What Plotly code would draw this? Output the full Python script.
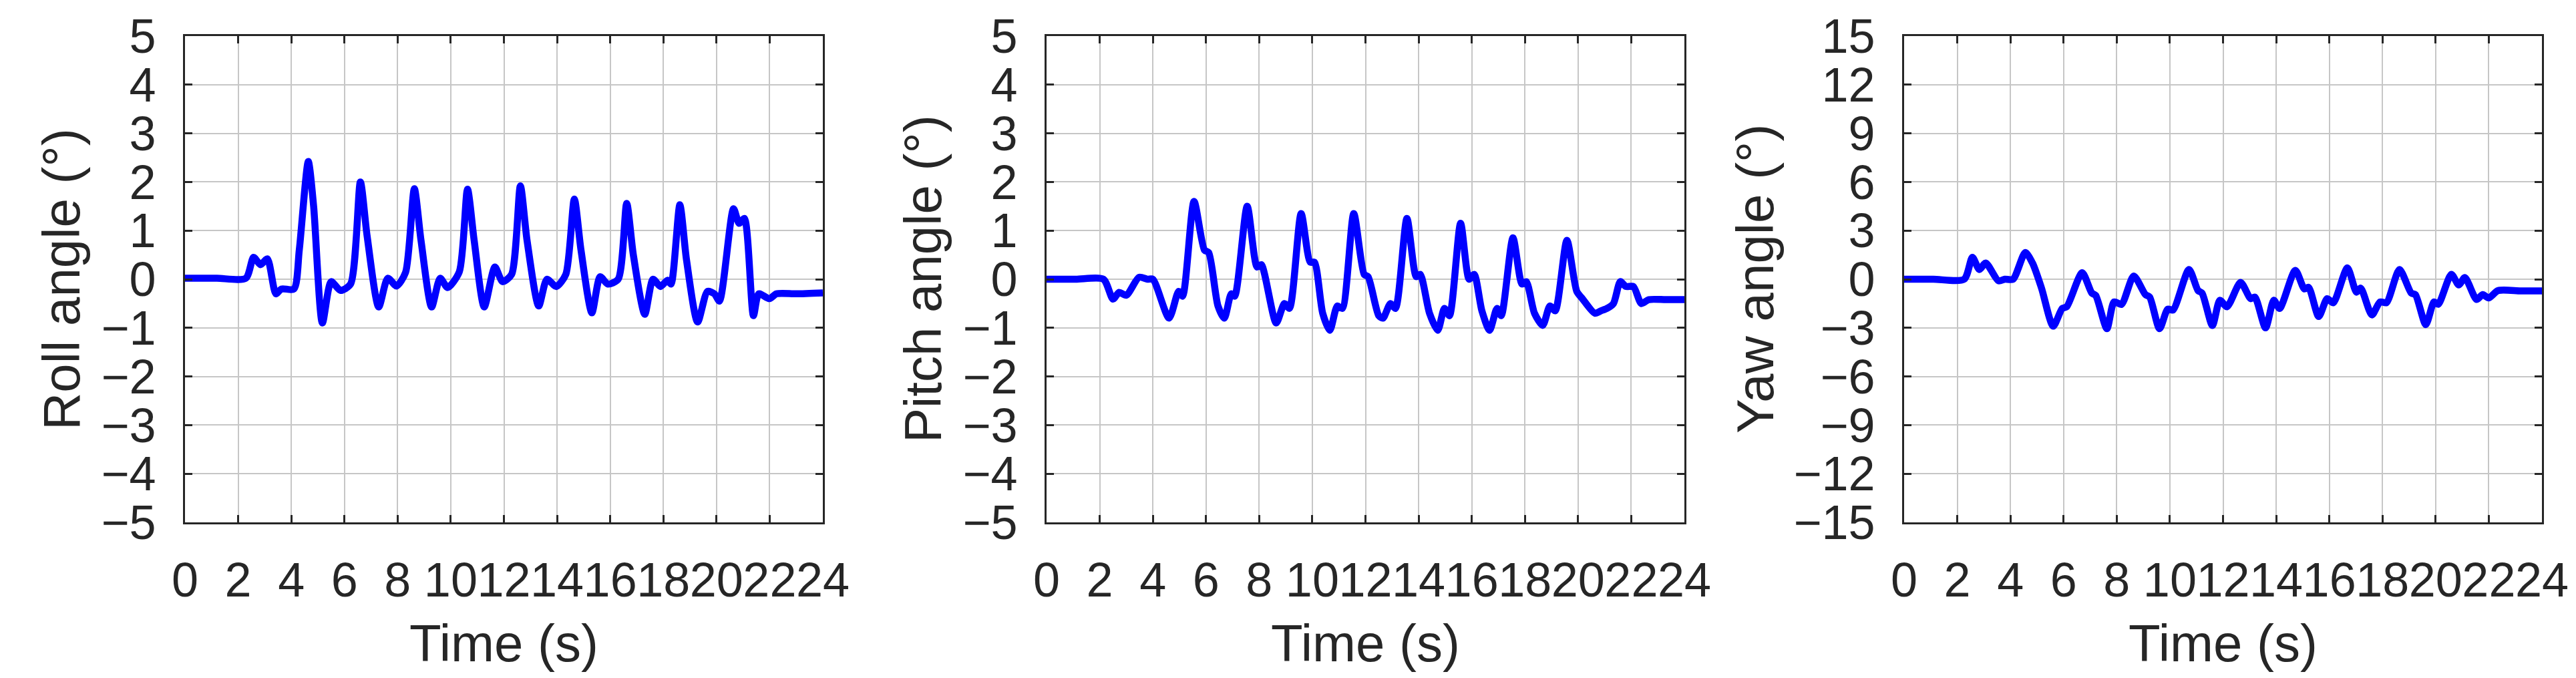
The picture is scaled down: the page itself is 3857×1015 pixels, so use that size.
import plotly.graph_objects as go

# roll angle (deg)
roll_t = [0, 1.2, 2.29, 2.58, 2.84, 3.1, 3.42, 3.63, 4.1, 4.3, 4.64, 4.84, 5.17, 5.5, 5.85, 6.23, 6.6,
          6.85, 7.29, 7.63, 7.96, 8.3, 8.63, 8.88, 9.28, 9.6, 9.88, 10.32, 10.63, 10.88, 11.26,
          11.66, 11.95, 12.29, 12.62, 12.87, 13.31, 13.62, 13.97, 14.33, 14.65, 14.9, 15.31,
          15.62, 15.91, 16.3, 16.62, 16.87, 17.3, 17.61, 17.89, 18.16, 18.29, 18.62, 18.87,
          19.29, 19.66, 19.92, 20.11, 20.64, 20.85, 21.05, 21.39, 21.59, 21.99, 22.26, 23.0, 24]
roll_deg = [0.02, 0.02, 0.02, 0.45, 0.3, 0.42, -0.3, -0.2, -0.2, 0.6, 2.42, 1.5, -0.9, -0.05, -0.23, -0.1, 2.0,
            0.9, -0.57, 0.02, -0.14, 0.14, 1.86, 0.8, -0.57, 0.02, -0.17, 0.15, 1.85, 0.8, -0.57,
            0.25, -0.05, 0.1, 1.92, 0.8, -0.55, 0.0, -0.15, 0.1, 1.65, 0.6, -0.69,
            0.05, -0.1, 0.0, 1.56, 0.5, -0.72, 0.0, -0.15, -0.02, -0.1, 1.53, 0.4,
            -0.88, -0.25, -0.3, -0.45, 1.45, 1.15, 1.25, -0.75, -0.3, -0.4, -0.3, -0.3, -0.28]

# pitch angle (deg), middle panel
pitch_t = [0, 1.1, 2.14, 2.5, 2.73, 3.0, 3.48, 3.8, 4.0, 4.61, 4.97, 5.12, 5.55, 5.94, 6.1, 6.45, 6.69,
           6.95, 7.08, 7.55, 7.92, 8.08, 8.64, 8.95, 9.14, 9.58, 9.92, 10.08, 10.39, 10.66, 10.94,
           11.13, 11.56, 11.95, 12.1, 12.5, 12.66, 12.94, 13.13, 13.56, 13.91, 14.06, 14.41,
           14.72, 14.97, 15.16, 15.58, 15.9, 16.09, 16.38, 16.67, 16.95, 17.11, 17.55, 17.89,
           18.05, 18.36, 18.67, 18.94, 19.14, 19.58, 19.95, 20.16, 20.63, 20.86, 21.09, 21.33,
           21.59, 21.8, 22.08, 22.38, 22.66, 23.3, 24]
pitch_deg = [0, 0, 0, -0.41, -0.27, -0.33, 0.04, 0.0, 0.0, -0.8, -0.25, -0.35, 1.6, 0.6, 0.55, -0.55, -0.8,
             -0.3, -0.35, 1.5, 0.25, 0.3, -0.9, -0.5, -0.6, 1.35, 0.35, 0.35, -0.7, -1.05, -0.55,
             -0.6, 1.35, 0.1, 0.05, -0.75, -0.8, -0.5, -0.6, 1.25, 0.05, 0.1, -0.7,
             -1.05, -0.6, -0.75, 1.15, 0.0, 0.1, -0.65, -1.05, -0.6, -0.75, 0.85, -0.1,
             -0.05, -0.7, -0.95, -0.55, -0.65, 0.8, -0.25, -0.4, -0.7, -0.65, -0.6, -0.5,
             -0.05, -0.15, -0.15, -0.5, -0.42, -0.42, -0.42]

# yaw angle (deg), right panel
yaw_t = [0, 1.1, 2.26, 2.57, 2.83, 3.07, 3.55, 3.79, 4.1, 4.56, 4.83, 5.17, 5.61, 5.95, 6.12, 6.7, 7.06,
         7.21, 7.63, 7.9, 8.18, 8.64, 9.08, 9.24, 9.61, 9.92, 10.12, 10.72, 11.06, 11.21, 11.6,
         11.88, 12.15, 12.66, 13.04, 13.2, 13.6, 13.91, 14.13, 14.72, 15.06, 15.22, 15.6,
         15.92, 16.15, 16.68, 17.02, 17.18, 17.6, 17.91, 18.15, 18.64, 19.08, 19.24, 19.63,
         19.94, 20.1, 20.59, 20.87, 21.1, 21.54, 21.77, 22.0, 22.35, 23.2, 24]
yaw_deg = [0, 0, 0, 1.35, 0.6, 1.0, -0.1, 0.0, 0.0, 1.65, 1.0, -0.55, -2.9, -1.8, -1.7, 0.4, -0.85,
           -1.0, -3.05, -1.4, -1.55, 0.2, -0.95, -1.1, -3.05, -1.85, -1.9, 0.6, -0.7, -0.85, -2.85,
           -1.3, -1.7, -0.2, -1.2, -1.1, -3.0, -1.3, -1.8, 0.55, -0.6, -0.5, -2.3,
           -1.2, -1.45, 0.7, -0.8, -0.55, -2.2, -1.4, -1.45, 0.6, -0.85, -0.95, -2.8,
           -1.4, -1.55, 0.3, -0.35, 0.1, -1.25, -0.95, -1.15, -0.7, -0.72, -0.72]

x_ticks = list(range(0, 25, 2))
y_labels = ["Roll angle (°)", "Pitch angle (°)", "Yaw angle (°)"]
y_ranges = [(-5, 5), (-5, 5), (-15, 15)]
y_steps = [1, 1, 3]

W, H = 3857, 1015
left_px = [269, 1559, 2843]
plot_w = 955
top_px, bot_px = 46, 774
title_off = [185, 185, 223]  # y title centre distance from axis

axis_col = "#262626"
grid_col = "#c6c6c6"
font = "Liberation Sans, Arial, sans-serif"

fig = go.Figure()
series = [(roll_t, roll_deg), (pitch_t, pitch_deg), (yaw_t, yaw_deg)]

for i, (t, v) in enumerate(series):
    n = "" if i == 0 else str(i + 1)
    fig.add_trace(go.Scatter(
        x=t, y=v, mode="lines",
        line=dict(color="#0000ff", width=10.5, shape="spline", smoothing=0.7),
        xaxis="x" + n, yaxis="y" + n, showlegend=False,
    ))
    x0 = left_px[i] / W
    x1 = (left_px[i] + plot_w) / W
    lo, hi = y_ranges[i]
    common = dict(
        showline=True, linecolor=axis_col, linewidth=3, mirror="ticks",
        ticks="inside", ticklen=11, tickwidth=3, tickcolor=axis_col,
        showgrid=True, gridcolor=grid_col, gridwidth=2, zeroline=False,
        tickfont=dict(family=font, size=72, color=axis_col),
        tickangle=0, fixedrange=True, automargin=False,
    )
    fig.update_layout({
        "xaxis" + n: dict(domain=[x0, x1], range=[0, 24], tickvals=x_ticks,
                          anchor="y" + n, ticklabelstandoff=22, **common),
        "yaxis" + n: dict(domain=[1 - bot_px / H, 1 - top_px / H], range=[lo, hi],
                          tickvals=list(range(lo, hi + 1, y_steps[i])),
                          anchor="x" + n, ticklabelstandoff=26, **common),
    })
    fig.add_annotation(
        x=(left_px[i] + plot_w / 2) / W, y=1 - 955 / H, xref="paper", yref="paper",
        text="Time (s)", showarrow=False, xanchor="center", yanchor="middle",
        font=dict(family=font, size=78, color=axis_col),
    )
    fig.add_annotation(
        x=(left_px[i] - title_off[i]) / W, y=1 - 410 / H, xref="paper", yref="paper",
        text=y_labels[i], textangle=-90, showarrow=False, xanchor="center", yanchor="middle",
        font=dict(family=font, size=78, color=axis_col),
    )

fig.update_layout(
    width=W, height=H,
    margin=dict(l=0, r=0, t=0, b=0),
    paper_bgcolor="white", plot_bgcolor="white",
    showlegend=False,
)

fig.write_html("out.html")
